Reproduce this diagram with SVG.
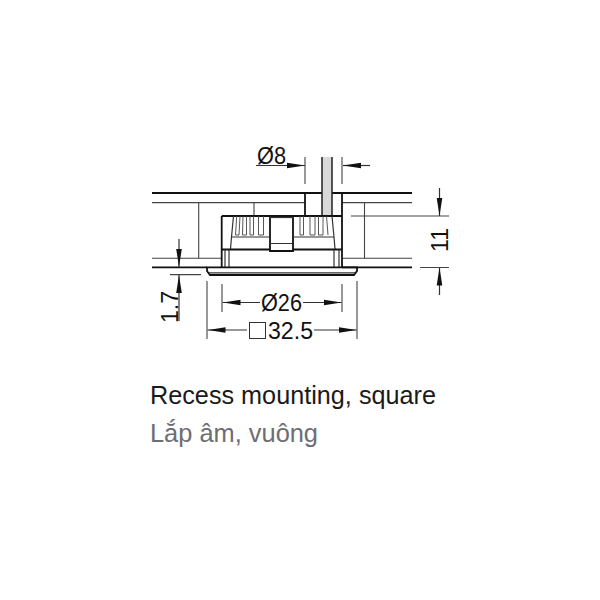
<svg xmlns="http://www.w3.org/2000/svg" width="600" height="600" viewBox="0 0 600 600">
<style>
.t{stroke:#111;stroke-width:1.8;fill:none}
.m{stroke:#333;stroke-width:1.2;fill:none}
.h{stroke:#444;stroke-width:.9;fill:none}
.f{stroke:#444;stroke-width:1.1;fill:none}
.d{font-family:"Liberation Sans",Arial,sans-serif;font-size:23px;fill:#111}
.c{font-family:"Liberation Sans",Arial,sans-serif;font-size:26px}
</style>
<defs>
<marker id="a" markerUnits="userSpaceOnUse" markerWidth="18" markerHeight="8" refX="18" refY="4" orient="auto"><path d="M0 1.200L18 4L0 6.800Z" fill="#111"/></marker>
</defs>
<g id="panel">
<path class="t" d="M152 193H412M152 267.300H207M342 267.300H412"/>
<path class="f" d="M152 202.600H305M342 202.600H412M152 258.300H221.700M342 258.300H412"/>
<path class="f" d="M198.700 202.600V258.300M254 202.600V216M364.500 202.600V258.300"/>
</g>
<g id="rod">
<rect x="322" y="157" width="10" height="59" fill="#d9d9d9"/>
<path d="M322 157V216M332 157V216" stroke="#222" stroke-width="1.5" fill="none"/>
<path class="t" d="M305 193V216"/>
</g>
<g id="fitting">
<path class="t" d="M342 193V267.300M221.700 216V267.300M221.700 216H342"/>
<path class="m" d="M233.500 216L231.500 237L230.500 249M332 216L334 237L335 249"/>
<path class="t" d="M221.700 249.500H270M293 249.500H342M270 216V251H293V216"/>
<path class="m" d="M270 243.500H293M229 249.500V267M334 249.500V267M225 249.500V267M339 249.500V267M231.500 237H270M293 237H334"/>
<path class="m" d="M269 217.500H294"/>
<path class="h" d="M236.700 216L235.500 235H239L240 216M243 216L242.500 235H246.500V216M250 216V235H253.500V216M258.500 216V235H263.500V216"/>
<path class="h" d="M300 216V235H303.500V216M310 216V235H315V216M318.500 216V235H323V216M326.500 216L328 235"/>
<path class="t" d="M207 267.300H357V271L354 275H210L207 271Z"/>
<path class="m" d="M209 272.800H355"/>
</g>
<g id="connectors">
<path class="f" d="M305 157V184M342 157V184M222 284V312M342 284V312M207 281V339M357 281V339M351 216H449M420 267.500H449M170 274.600H201"/>
<path class="m" d="M256 165.500H305" marker-end="url(#a)"/>
<path class="m" d="M370 165.500H343" marker-end="url(#a)"/>
<path class="m" d="M439.500 188V216" marker-end="url(#a)"/>
<path class="m" d="M439.500 295V267.500" marker-end="url(#a)"/>
<path class="m" d="M179 239V267" marker-end="url(#a)"/>
<path class="m" d="M179 321V275" marker-end="url(#a)"/>
<path class="m" d="M260 302.500H222.500" marker-end="url(#a)"/>
<path class="m" d="M303 302.500H341.500" marker-end="url(#a)"/>
<path class="m" d="M247 330H207.500" marker-end="url(#a)"/>
<path class="m" d="M314 330H356.500" marker-end="url(#a)"/>
</g>
<g id="labels">
<text class="d" x="257" y="164" textLength="29" lengthAdjust="spacingAndGlyphs">Ø8</text>
<text class="d" x="261" y="311" textLength="41" lengthAdjust="spacingAndGlyphs">Ø26</text>
<rect x="249.500" y="322.500" width="16" height="16" fill="none" stroke="#333" stroke-width="1"/>
<text class="d" x="268" y="338.500" textLength="45" lengthAdjust="spacingAndGlyphs">32.5</text>
<text class="d" transform="translate(447.500 240) rotate(-90)" text-anchor="middle">11</text>
<text class="d" transform="translate(178 307) rotate(-90)" text-anchor="middle">1.7</text>
<text class="c" x="150" y="403.500" fill="#1a1a1a" textLength="286" lengthAdjust="spacingAndGlyphs">Recess mounting, square</text>
<text class="c" x="150" y="441.500" fill="#6d6e71" textLength="168" lengthAdjust="spacingAndGlyphs">Lắp âm, vuông</text>
</g>
</svg>
